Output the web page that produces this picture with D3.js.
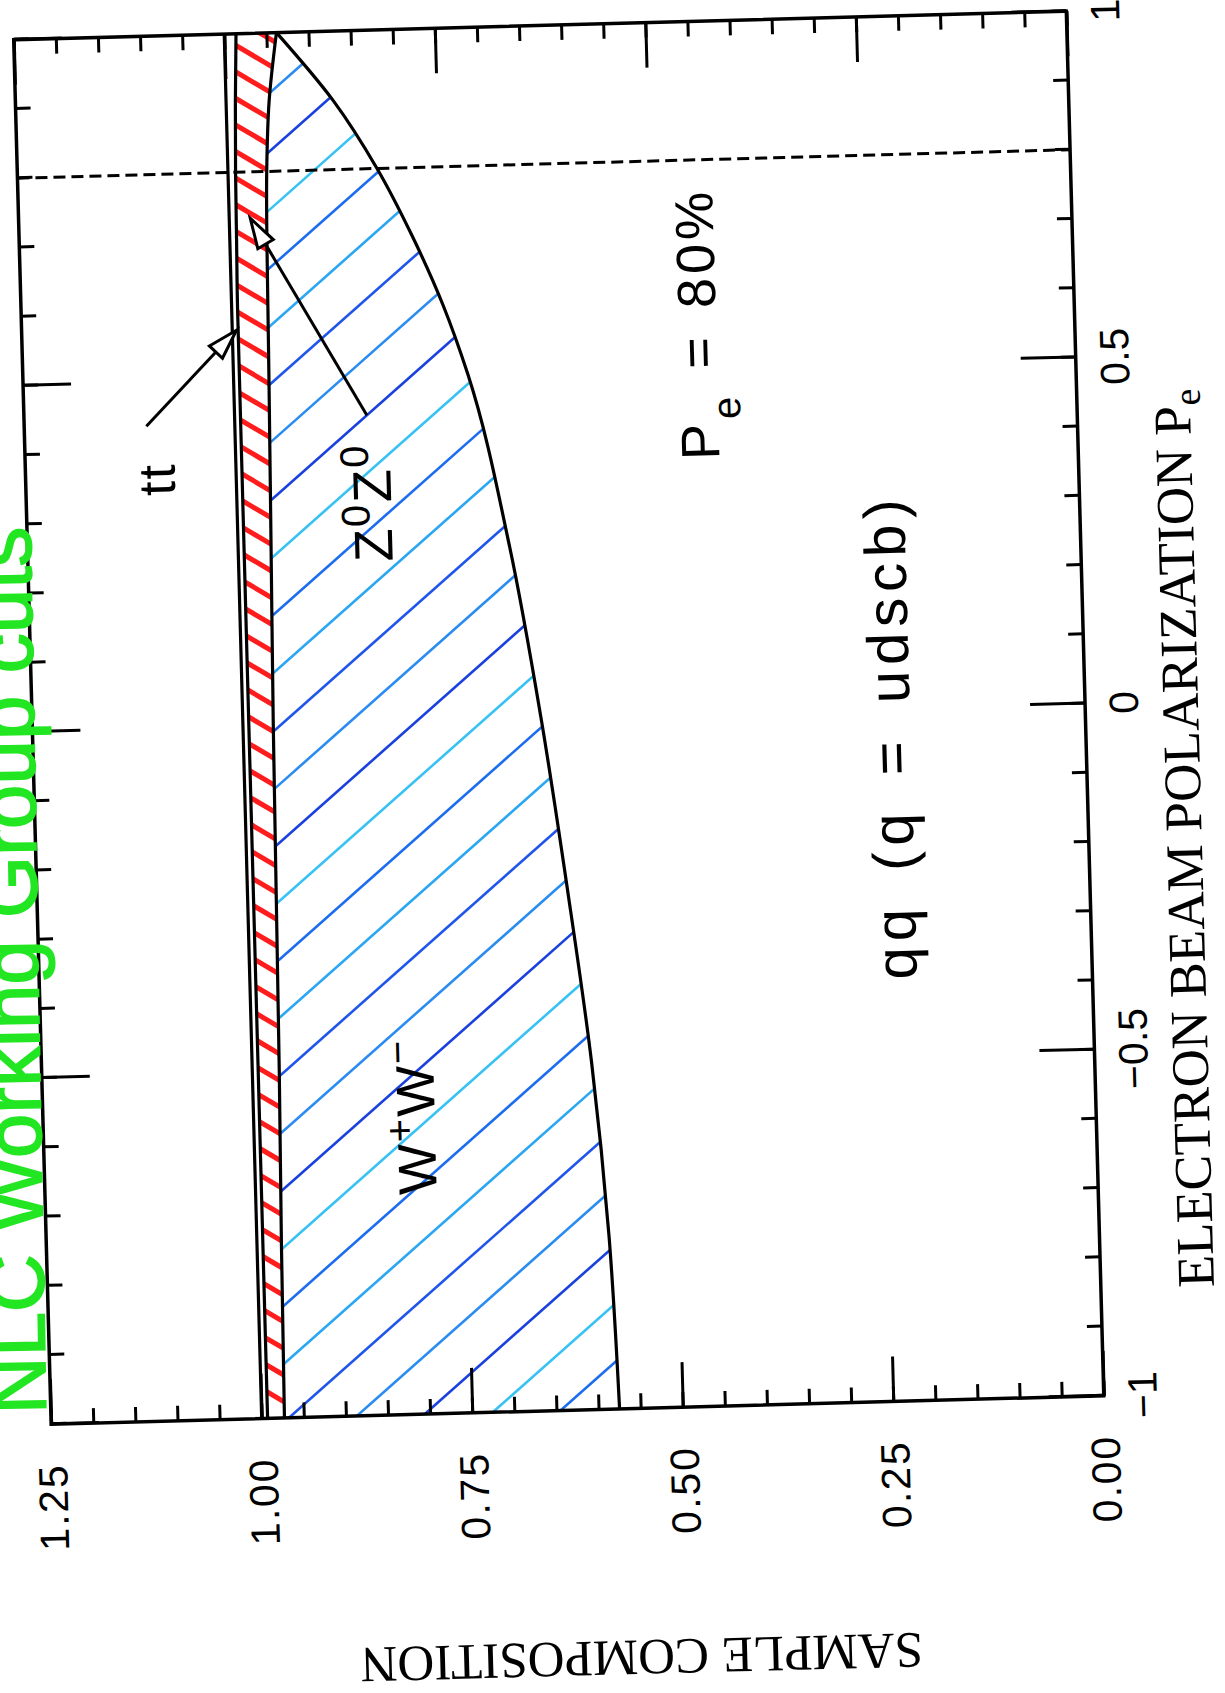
<!DOCTYPE html>
<html>
<head>
<meta charset="utf-8">
<script src="https://cdn.jsdelivr.net/npm/d3@7"></script>
<style>
  body { margin: 0; background: #fff; }
  svg { display: block; }
</style>
</head>
<body>
<svg id="chart" width="1225" height="1693"></svg>
<script>
// Electron beam polarization values at which the band edges are given
const polarization = [-1, -0.75, -0.5, -0.25, 0, 0.25, 0.5, 0.6, 0.7, 0.8, 0.9, 1];
// Cumulative sample composition, stacked from the bottom
// q-qbar (q = udscb): upper edge
const qqFraction = [0.575, 0.582, 0.597, 0.620, 0.646, 0.678, 0.722, 0.749, 0.783, 0.823, 0.873, 0.938];
// W+W-: upper edge
const wwTop = [0.973, 0.971, 0.968, 0.966, 0.964, 0.961, 0.958, 0.957, 0.956, 0.954, 0.949, 0.938];
// Z0Z0: upper edge
const zzTop = [0.993, 0.993, 0.993, 0.993, 0.993, 0.993, 0.993, 0.993, 0.992, 0.991, 0.989, 0.986];
// t-tbar: upper edge (whole sample)
const ttTop = [1, 1, 1, 1, 1, 1, 1, 1, 1, 1, 1, 1];

// Axis ticks and labels
const compMajor = [0, 0.25, 0.5, 0.75, 1.0, 1.25];
const compLabels = ["0.00", "0.25", "0.50", "0.75", "1.00", "1.25"];
const polMajor = [-1, -0.5, 0, 0.5, 1];
const polLabels = ["\u22121", "\u22120.5", "0", "0.5", "1"];
const compMinorStep = 0.05;
const polMinorStep = 0.1;

// Working point marked on the plot
const workingPolarization = 0.8;

// Annotation arrows: [polarization, composition] of tail and tip
const ttArrow = { tail: [0.437, 1.105], tip: [0.572, 0.995] };
const zzArrow = { tail: [0.444, 0.843], tip: [0.733, 0.975] };

// ---------------------------------------------------------------
const W = 1385, H = 1053;
const x = d3.scaleLinear().domain([-1, 1]).range([0, W]);
const y = d3.scaleLinear().domain([0, 1.25]).range([H, 0]);

const svg = d3.select("#chart");
const defs = svg.append("defs");

// The page is laid out in landscape: the whole plot is turned a quarter turn
const g = svg.append("g")
  .attr("transform", `translate(558.75,717.75) rotate(-91.55) translate(${-W / 2},${-H / 2})`);

const rows = polarization.map((p, i) => ({
  p, qq: qqFraction[i], ww: wwTop[i], zz: zzTop[i], tt: ttTop[i]
}));
const curve = d3.curveMonotoneX;

const areaWW = d3.area().x(d => x(d.p)).y0(d => y(d.qq)).y1(d => y(d.ww)).curve(curve);
const areaZZ = d3.area().x(d => x(d.p)).y0(d => y(d.ww)).y1(d => y(d.zz)).curve(curve);
defs.append("clipPath").attr("id", "clipWW").append("path").attr("d", areaWW(rows));
defs.append("clipPath").attr("id", "clipZZ").append("path").attr("d", areaZZ(rows));

// Blue hatching of the W+W- band
const blueInks = ["#1f55ea", "#2aa6f2", "#1c6cf0", "#38c2f3", "#1a40de", "#2a8cf1"];
const aB = 50 * Math.PI / 180, runB = H / Math.tan(aB), stepB = 57;
const hatchB = g.append("g").attr("clip-path", "url(#clipWW)");
d3.range(-runB, W + stepB, stepB).forEach((x0, i) => {
  hatchB.append("line")
    .attr("x1", x0).attr("y1", 0).attr("x2", x0 + runB).attr("y2", H)
    .attr("stroke", blueInks[i % blueInks.length])
    .attr("stroke-width", 2.6);
});

// Red hatching of the Z0Z0 band
const aR = 58 * Math.PI / 180, runR = H / Math.tan(aR), stepR = 27;
const hatchR = g.append("g").attr("clip-path", "url(#clipZZ)");
d3.range(-runR, W + stepR, stepR).forEach(x0 => {
  hatchR.append("line")
    .attr("x1", x0).attr("y1", H).attr("x2", x0 + runR).attr("y2", 0)
    .attr("stroke", "#ff1c1c")
    .attr("stroke-width", 5);
});

// Band edges
const edge = key => d3.line().x(d => x(d.p)).y(d => y(d[key])).curve(curve)(rows);
["tt", "zz", "ww", "qq"].forEach(k => {
  g.append("path").attr("d", edge(k))
    .attr("fill", "none").attr("stroke", "#000").attr("stroke-width", 3.2);
});

// Dashed marker of the working polarization
g.append("line")
  .attr("x1", x(workingPolarization)).attr("x2", x(workingPolarization))
  .attr("y1", 0).attr("y2", H)
  .attr("stroke", "#000").attr("stroke-width", 3)
  .attr("stroke-dasharray", "12,6");

// Frame and inward ticks on all four sides
const tickStroke = s => s.selectAll("line").attr("stroke", "#000").attr("stroke-width", 3);
const bare = s => { s.select(".domain").remove(); s.selectAll("text").remove(); tickStroke(s); };

const compMinor = d3.range(0, 1.25 + 1e-9, compMinorStep);
const polMinor = d3.range(-1, 1 + 1e-9, polMinorStep);

g.append("g").call(d3.axisLeft(y).tickValues(compMinor).tickSize(-15)).call(bare);
g.append("g").call(d3.axisLeft(y).tickValues(compMajor).tickSize(-45)).call(bare);
g.append("g").attr("transform", `translate(${W},0)`)
  .call(d3.axisRight(y).tickValues(compMinor).tickSize(-15)).call(bare);
g.append("g").attr("transform", `translate(${W},0)`)
  .call(d3.axisRight(y).tickValues(compMajor).tickSize(-45)).call(bare);

g.append("g").attr("transform", `translate(0,${H})`)
  .call(d3.axisBottom(x).tickValues(polMinor).tickSize(-15)).call(bare);
g.append("g").attr("transform", `translate(0,${H})`)
  .call(d3.axisBottom(x).tickValues(polMajor).tickSize(-55)).call(bare);
g.append("g").call(d3.axisTop(x).tickValues(polMinor).tickSize(-15)).call(bare);
g.append("g").call(d3.axisTop(x).tickValues(polMajor).tickSize(-48)).call(bare);

g.append("rect").attr("x", 0).attr("y", 0).attr("width", W).attr("height", H)
  .attr("fill", "none").attr("stroke", "#000").attr("stroke-width", 3.5);

// Tick labels
const sans = "'Liberation Sans', Arial, Helvetica, sans-serif";
const serif = "'Liberation Serif', 'Times New Roman', serif";

g.append("g").selectAll("text").data(compMajor).join("text")
  .attr("x", -39).attr("y", d => y(d)).attr("dy", "0.36em")
  .attr("text-anchor", "end")
  .attr("font-family", sans).attr("font-size", 41).attr("letter-spacing", 2)
  .text((d, i) => compLabels[i]);

g.append("g").selectAll("text").data(polMajor).join("text")
  .attr("x", d => x(d)).attr("y", H + 53)
  .attr("text-anchor", "middle")
  .attr("font-family", sans).attr("font-size", 41)
  .text((d, i) => polLabels[i]);

// Axis titles
const xt = g.append("text")
  .attr("x", 555).attr("y", H + 113)
  .attr("text-anchor", "middle")
  .attr("font-family", serif).attr("font-size", 53);
xt.append("tspan").text("ELECTRON BEAM POLARIZATION P");
xt.append("tspan").attr("font-size", 38).attr("dy", 10).text("e");

g.append("text")
  .attr("transform", "translate(-249,584) rotate(-90)")
  .attr("text-anchor", "middle").attr("dy", "0.33em")
  .attr("font-family", serif).attr("font-size", 51)
  .text("SAMPLE COMPOSITION");

// Labels inside the plot
function label(p, c, size, parts, spacing, wordSpacing) {
  const t = g.append("text")
    .attr("x", x(p)).attr("y", y(c)).attr("dy", "0.36em")
    .attr("text-anchor", "middle")
    .attr("font-family", sans).attr("font-size", size)
    .attr("letter-spacing", spacing || 0)
    .attr("word-spacing", wordSpacing || 0);
  parts.forEach(([s, shift]) => {
    const ts = t.append("tspan").text(s);
    if (shift) ts.attr("font-size", size * 0.74).attr("baseline-shift", shift);
  });
  return t;
}
label(0.36, 1.095, 52, [["tt"]], 2);
label(0.318, 0.840, 54, [["Z"], ["0", "super"], ["Z"], ["0", "super"]], 2);
label(-0.57, 0.808, 54, [["W"], ["+", "super"], ["W"], ["\u2212", "super"]], 2);
label(0.563, 0.449, 54, [["P"], ["e", "sub"], [" = 80%"]], 4, 6);
label(-0.04, 0.233, 58, [["qq (q = udscb)"]], 6, 10);

// Open-headed arrows
function arrow(a) {
  const x0 = x(a.tail[0]), y0 = y(a.tail[1]), x1 = x(a.tip[0]), y1 = y(a.tip[1]);
  const ang = Math.atan2(y1 - y0, x1 - x0), len = 30, hw = 9;
  const bx = x1 - len * Math.cos(ang), by = y1 - len * Math.sin(ang);
  g.append("line").attr("x1", x0).attr("y1", y0).attr("x2", bx).attr("y2", by)
    .attr("stroke", "#000").attr("stroke-width", 3);
  const pts = [[x1, y1],
    [bx + hw * Math.sin(ang), by - hw * Math.cos(ang)],
    [bx - hw * Math.sin(ang), by + hw * Math.cos(ang)]];
  g.append("path").attr("d", "M" + pts.join("L") + "Z")
    .attr("fill", "#fff").attr("stroke", "#000").attr("stroke-width", 3)
    .attr("stroke-linejoin", "miter");
}
arrow(ttArrow);
arrow(zzArrow);

// Handwritten note along the left margin
svg.append("text")
  .attr("transform", "translate(46,1414) rotate(-91)")
  .attr("font-family", sans).attr("font-size", 80)
  .attr("fill", "#22e622").attr("stroke", "#22e622").attr("stroke-width", 1.5)
  .text("NLC Working Group cuts");
</script>
</body>
</html>
